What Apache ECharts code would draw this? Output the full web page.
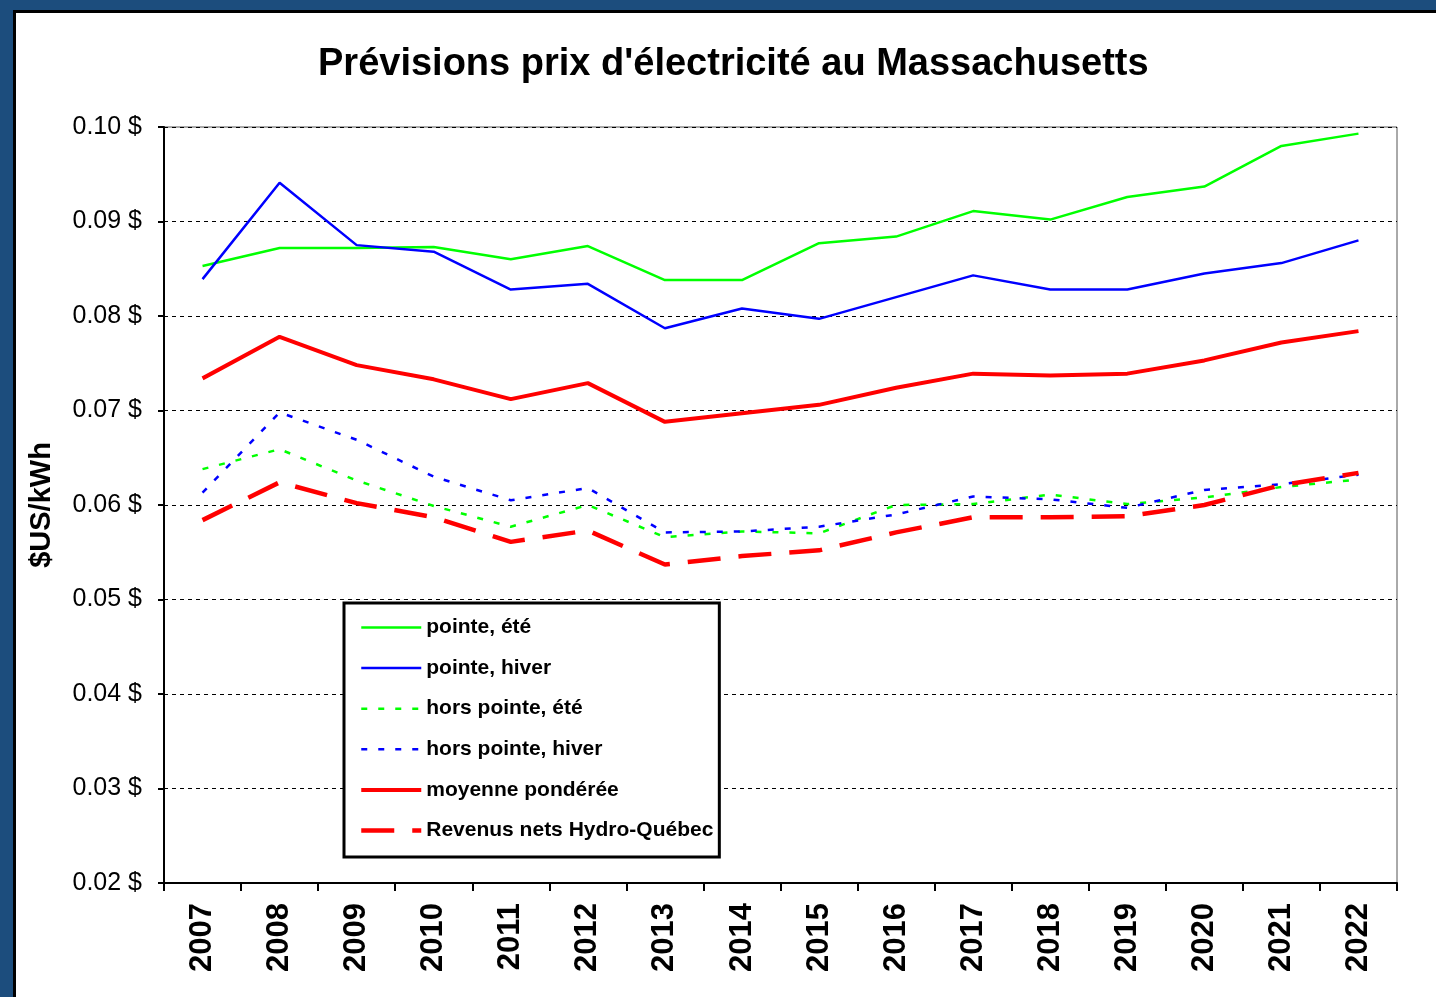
<!DOCTYPE html>
<html>
<head>
<meta charset="utf-8">
<script src="https://cdn.jsdelivr.net/npm/echarts@6/dist/echarts.min.js"></script>
<style>
html,body{margin:0;padding:0;background:#1c4d7d;}
#chart{width:1436px;height:997px;}
</style>
</head>
<body>
<div id="chart"></div>
<script>
const years = ['2007','2008','2009','2010','2011','2012','2013','2014','2015','2016','2017','2018','2019','2020','2021','2022'];
const pointeEte = [0.0853,0.0872,0.0872,0.0873,0.0860,0.0874,0.0838,0.0838,0.0877,0.0884,0.0911,0.0902,0.0926,0.0937,0.0980,0.0993];
const pointeHiver = [0.0839,0.0941,0.0875,0.0868,0.0828,0.0834,0.0787,0.0808,0.0797,0.0820,0.0843,0.0828,0.0828,0.0845,0.0856,0.0880];
const horsPointeEte = [0.0638,0.0659,0.0626,0.0599,0.0577,0.0600,0.0566,0.0572,0.0570,0.0600,0.0601,0.0611,0.0601,0.0608,0.0619,0.0627];
const horsPointeHiver = [0.0613,0.0698,0.0669,0.0630,0.0605,0.0618,0.0571,0.0572,0.0577,0.0590,0.0609,0.0606,0.0597,0.0616,0.0622,0.0632];
const moyennePonderee = [0.0734,0.0778,0.0748,0.0733,0.0712,0.0729,0.0688,0.0697,0.0706,0.0724,0.0739,0.0737,0.0739,0.0753,0.0772,0.0784];
const revenusNetsHQ = [0.0584,0.0624,0.0602,0.0587,0.0561,0.0573,0.0537,0.0546,0.0552,0.0571,0.0587,0.0587,0.0588,0.0600,0.0621,0.0634];
const seriesNames = ['pointe, été','pointe, hiver','hors pointe, été','hors pointe, hiver','moyenne pondérée','Revenus nets Hydro-Québec'];
const seriesWidths = [2.5, 2.5, 2.5, 2.5, 4, 4.5];

const FONT = 'Liberation Sans, Arial, sans-serif';
const chart = echarts.init(document.getElementById('chart'));

function line(name, data, color, width, type) {
  return {
    name: name, type: 'line', data: data, symbol: 'none', showSymbol: false,
    lineStyle: {color: color, width: width, type: type, cap: 'butt'},
    itemStyle: {color: color},
    emphasis: {disabled: true},
    animation: false
  };
}

chart.setOption({
  animation: false,
  graphic: [{
    type: 'rect', z: -10, silent: true,
    shape: {x: 14.5, y: 11.5, width: 1440, height: 1000},
    style: {fill: '#ffffff', stroke: '#000000', lineWidth: 3}
  }],
  title: {
    text: "Prévisions prix d'électricité au Massachusetts",
    left: 313, top: 41,
    textStyle: {fontFamily: FONT, fontSize: 38, fontWeight: 'bold', color: '#000'}
  },
  grid: {left: 164, top: 127, right: 39, bottom: 114, show: true, borderColor: '#555', borderWidth: 1, backgroundColor: 'transparent'},
  legend: {
    orient: 'vertical', left: 344, top: 603,
    itemWidth: 60, itemHeight: 14, itemGap: 19.6,
    padding: [14, 6, 16, 15],
    borderColor: '#000', borderWidth: 3, backgroundColor: '#fff',
    itemStyle: {opacity: 0},
    textStyle: {fontFamily: FONT, fontSize: 21, fontWeight: 'bold', color: '#000'},
    data: seriesNames.map((n, i) => ({name: n, lineStyle: {width: seriesWidths[i]}})),
    selectedMode: false
  },
  xAxis: {
    type: 'category', data: years, boundaryGap: true,
    axisLine: {lineStyle: {color: '#000', width: 2}},
    axisTick: {show: true, inside: false, length: 8, lineStyle: {color: '#000', width: 2}},
    axisLabel: {rotate: 90, margin: 20, fontFamily: FONT, fontSize: 31, fontWeight: 'bold', color: '#000'},
    splitLine: {show: false}
  },
  yAxis: {
    type: 'value', min: 0.02, max: 0.10, interval: 0.01,
    name: '$US/kWh', nameLocation: 'middle', nameRotate: 90, nameGap: 108,
    nameTextStyle: {fontFamily: FONT, fontSize: 29, fontWeight: 'bold', color: '#000'},
    axisLine: {show: true, lineStyle: {color: '#000', width: 2}},
    axisTick: {show: true, inside: false, length: 6, lineStyle: {color: '#000', width: 2}},
    axisLabel: {margin: 22, fontFamily: FONT, fontSize: 25, color: '#000', formatter: v => v.toFixed(2) + ' $'},
    splitLine: {show: true, lineStyle: {color: '#000', width: 1, type: [4, 4]}}
  },
  series: [
    line(seriesNames[0], pointeEte, '#00ff00', seriesWidths[0], 'solid'),
    line(seriesNames[1], pointeHiver, '#0000ff', seriesWidths[1], 'solid'),
    line(seriesNames[2], horsPointeEte, '#00ff00', seriesWidths[2], [6, 11]),
    line(seriesNames[3], horsPointeHiver, '#0000ff', seriesWidths[3], [6, 11]),
    line(seriesNames[4], moyennePonderee, '#ff0000', seriesWidths[4], 'solid'),
    line(seriesNames[5], revenusNetsHQ, '#ff0000', seriesWidths[5], [33, 18])
  ]
});
</script>
</body>
</html>
